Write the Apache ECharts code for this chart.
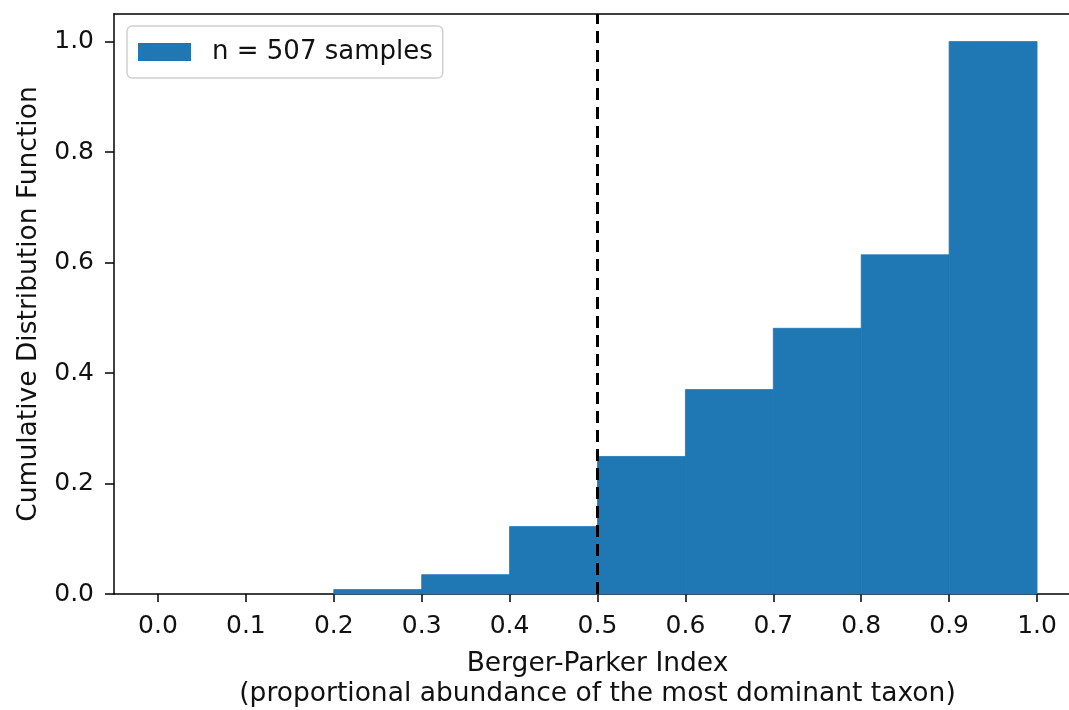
<!DOCTYPE html>
<html lang="en">

<head>
    <meta charset="utf-8">
    <style type="text/css">
    body {
        margin: 0;
        overflow: hidden;
        background-color: #fff
    }

    /* the right spine sits just past the window edge in the reference */
    #echarts {
        width: 1081px;
        height: 710px;
    }
    </style>
</head>

<body>
    <div id="echarts"></div>
    <script type="text/javascript" src="https://cdn.jsdelivr.net/npm/echarts@6/dist/echarts.min.js"></script>
    <script type="text/javascript">
    // histogram bins (left edge, right edge) and cumulative fraction
    var binStarts = [0.0, 0.1, 0.2, 0.3, 0.4, 0.5, 0.6, 0.7, 0.8, 0.9];
    var binEnds = [0.1, 0.2, 0.3, 0.4, 0.5, 0.6, 0.7, 0.8, 0.9, 1.0];
    var cdfValues = [0, 0, 0.008, 0.035, 0.122, 0.249, 0.370, 0.481, 0.614, 1.0];
    var xTicks = [0, 0.1, 0.2, 0.3, 0.4, 0.5, 0.6, 0.7, 0.8, 0.9, 1.0];
    var yTicks = [0, 0.2, 0.4, 0.6, 0.8, 1.0];
    var threshold = 0.5;

    var myEcharts = echarts.init(document.getElementById('echarts'));
    var fontFam = 'DejaVu Sans';

    var barData = binStarts.map(function(s, i) {
        return [s, binEnds[i], cdfValues[i]];
    });

    var spine = { color: '#000', width: 1.5 };

    var option = {
        animation: false,
        textStyle: { fontFamily: fontFam },
        grid: {
            left: 114,
            right: 0,
            top: 14,
            bottom: 116,
            outerBoundsMode: 'none',
            containLabel: false,
            show: false
        },
        legend: {
            left: 127,
            top: 26,
            padding: [13, 10, 13, 11],
            itemWidth: 53,
            itemHeight: 18,
            borderColor: '#d0d0d0',
            borderWidth: 1.5,
            borderRadius: 5,
            icon: 'rect',
            textStyle: {
                fontFamily: fontFam,
                fontSize: 26,
                color: '#111',
                padding: [0, 0, 0, 16]
            },
            data: ['n = 507 samples']
        },
        xAxis: [{
            type: 'value',
            min: -0.05,
            max: 1.05,
            name: 'Berger-Parker Index\n(proportional abundance of the most dominant taxon)',
            nameLocation: 'middle',
            nameGap: 55,
            nameTextStyle: {
                fontFamily: fontFam,
                fontSize: 26.5,
                color: '#111',
                lineHeight: 30,
                verticalAlign: 'top'
            },
            splitLine: { show: false },
            axisLine: { show: true, onZero: false, lineStyle: spine },
            axisTick: {
                show: true,
                length: 8,
                customValues: xTicks,
                lineStyle: spine
            },
            axisLabel: {
                customValues: xTicks,
                fontSize: 25,
                color: '#111',
                margin: 20,
                formatter: function(v) { return v.toFixed(1); }
            }
        }, {
            // top spine only
            type: 'value',
            position: 'top',
            min: -0.05,
            max: 1.05,
            splitLine: { show: false },
            axisLine: { show: true, onZero: false, lineStyle: spine },
            axisTick: { show: false },
            axisLabel: { show: false }
        }],
        yAxis: {
            type: 'value',
            min: 0,
            max: 1.05,
            name: 'Cumulative Distribution Function',
            nameLocation: 'middle',
            nameGap: 71,
            nameTextStyle: {
                fontFamily: fontFam,
                fontSize: 26.5,
                color: '#111'
            },
            splitLine: { show: false },
            axisLine: { show: true, onZero: false, lineStyle: spine },
            axisTick: {
                show: true,
                length: 9,
                customValues: yTicks,
                lineStyle: spine
            },
            axisLabel: {
                customValues: yTicks,
                fontSize: 25,
                color: '#111',
                margin: 20,
                formatter: function(v) { return v.toFixed(1); }
            }
        },
        series: [{
            name: 'n = 507 samples',
            type: 'custom',
            itemStyle: { color: '#1f77b4' },
            encode: { x: [0, 1], y: 2 },
            renderItem: function(params, api) {
                var p0 = api.coord([api.value(0), 0]);
                var p1 = api.coord([api.value(1), api.value(2)]);
                var h = p0[1] - p1[1];
                return {
                    type: 'rect',
                    shape: {
                        x: p0[0],
                        y: p1[1],
                        width: p1[0] - p0[0],
                        height: h
                    },
                    style: {
                        fill: '#1f77b4',
                        stroke: h > 0 ? '#1f77b4' : null,
                        lineWidth: h > 0 ? 0.8 : 0
                    }
                };
            },
            data: barData,
            markLine: {
                silent: true,
                symbol: 'none',
                label: { show: false },
                lineStyle: { color: '#000', width: 3, type: [12, 7] },
                data: [{ xAxis: threshold }]
            },
            z: 2
        }]
    };
    myEcharts.setOption(option);
    </script>
</body>

</html>
